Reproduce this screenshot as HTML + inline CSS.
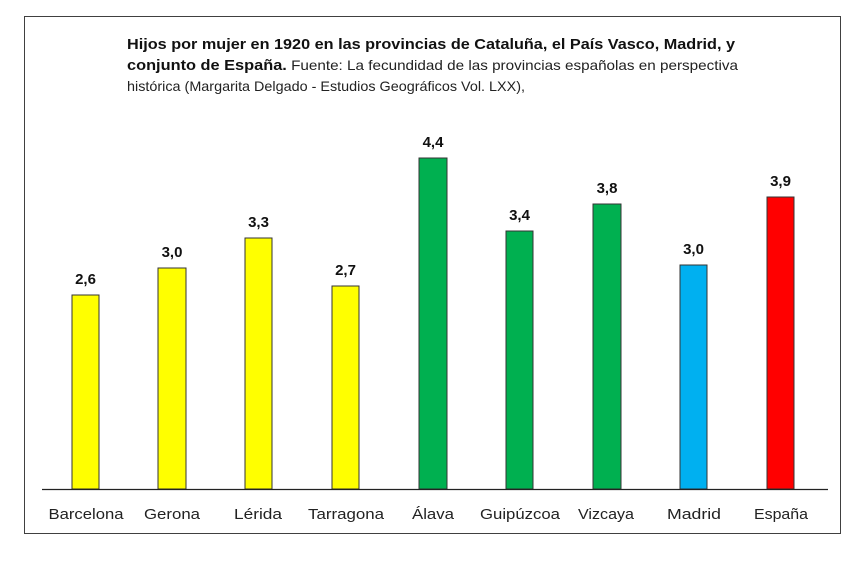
<!DOCTYPE html>
<html><head><meta charset="utf-8"><style>
body{margin:0;background:#fff;}
svg{display:block;}
text{font-family:"Liberation Sans",sans-serif;}
</style></head><body>
<svg width="867" height="567" viewBox="0 0 867 567">
<rect x="24.5" y="16.5" width="816" height="517" fill="#fff" stroke="#404040" stroke-width="1"/>
<text x="127" y="49" font-size="15" font-weight="bold" fill="#111" textLength="608" lengthAdjust="spacingAndGlyphs">Hijos por mujer en 1920 en las provincias de Cataluña, el País Vasco, Madrid, y</text>
<text x="127" y="70" font-size="14" fill="#222" textLength="611" lengthAdjust="spacingAndGlyphs"><tspan font-weight="bold" font-size="15" fill="#111">conjunto de España.</tspan> Fuente: La fecundidad de las provincias españolas en perspectiva</text>
<text x="127" y="91" font-size="14" fill="#222" textLength="398" lengthAdjust="spacingAndGlyphs">histórica (Margarita Delgado - Estudios Geográficos Vol. LXX),</text>
<g stroke="#333" stroke-width="1">
<rect x="72" y="295" width="27" height="194" fill="#ffff00"/>
<rect x="158" y="268" width="28" height="221" fill="#ffff00"/>
<rect x="245" y="238" width="27" height="251" fill="#ffff00"/>
<rect x="332" y="286" width="27" height="203" fill="#ffff00"/>
<rect x="419" y="158" width="28" height="331" fill="#00b050"/>
<rect x="506" y="231" width="27" height="258" fill="#00b050"/>
<rect x="593" y="204" width="28" height="285" fill="#00b050"/>
<rect x="680" y="265" width="27" height="224" fill="#00b0f0"/>
<rect x="767" y="197" width="27" height="292" fill="#ff0000"/>
</g>
<line x1="42" y1="489.5" x2="828" y2="489.5" stroke="#222" stroke-width="1.3"/>
<g font-size="15" font-weight="bold" fill="#111" text-anchor="middle">
<text x="85.5" y="284">2,6</text>
<text x="172" y="257">3,0</text>
<text x="258.5" y="227">3,3</text>
<text x="345.5" y="275">2,7</text>
<text x="433" y="147">4,4</text>
<text x="519.5" y="220">3,4</text>
<text x="607" y="193">3,8</text>
<text x="693.5" y="254">3,0</text>
<text x="780.5" y="186">3,9</text>
</g>
<g font-size="15" fill="#222" text-anchor="middle">
<text x="86" y="519" textLength="75" lengthAdjust="spacingAndGlyphs">Barcelona</text>
<text x="172" y="519" textLength="56" lengthAdjust="spacingAndGlyphs">Gerona</text>
<text x="258" y="519" textLength="48" lengthAdjust="spacingAndGlyphs">Lérida</text>
<text x="346" y="519" textLength="76" lengthAdjust="spacingAndGlyphs">Tarragona</text>
<text x="433" y="519" textLength="42" lengthAdjust="spacingAndGlyphs">Álava</text>
<text x="520" y="519" textLength="80" lengthAdjust="spacingAndGlyphs">Guipúzcoa</text>
<text x="606" y="519" textLength="56" lengthAdjust="spacingAndGlyphs">Vizcaya</text>
<text x="694" y="519" textLength="54" lengthAdjust="spacingAndGlyphs">Madrid</text>
<text x="781" y="519" textLength="54" lengthAdjust="spacingAndGlyphs">España</text>
</g>
</svg>
</body></html>
